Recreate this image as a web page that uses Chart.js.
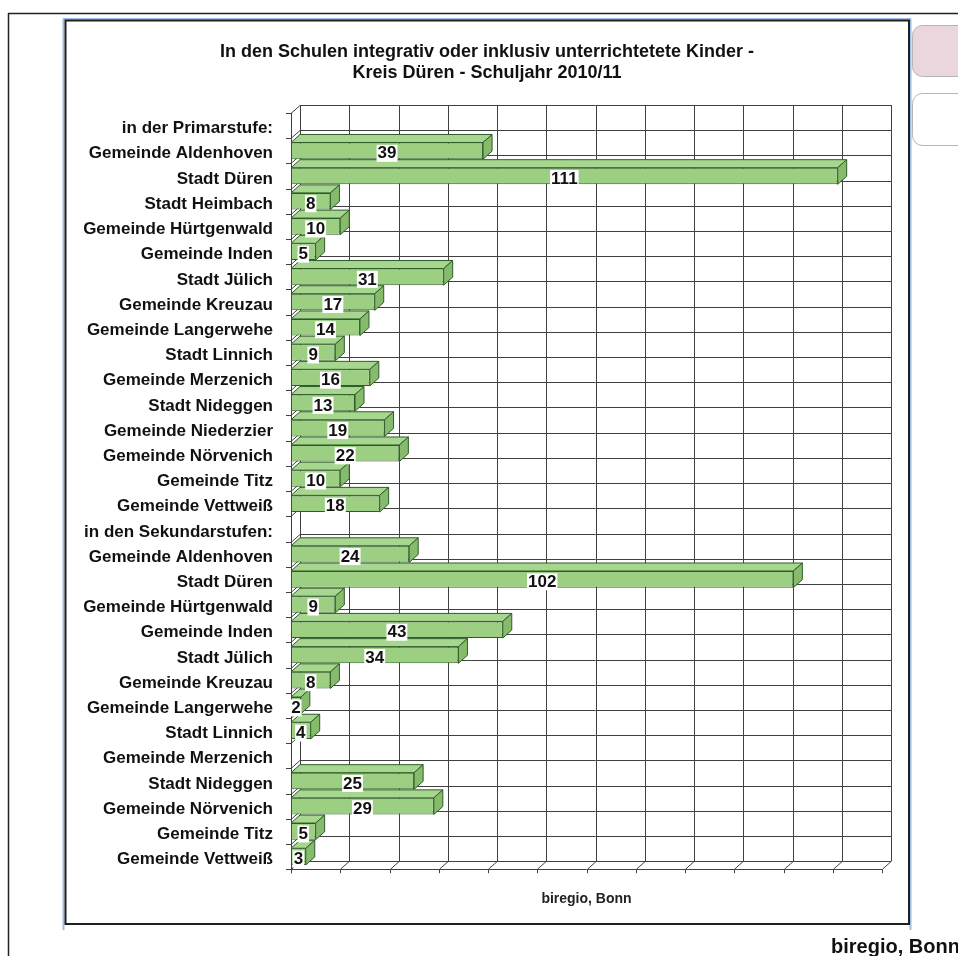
<!DOCTYPE html>
<html lang="de">
<head>
<meta charset="utf-8">
<title>Integrativ unterrichtete Kinder - Kreis Düren 2010/11</title>
<script src="https://cdn.jsdelivr.net/npm/chart.js@4.4.1/dist/chart.umd.min.js"></script>
<style>
    html, body { margin: 0; padding: 0; background: #fff; }
    canvas { display: block; }
</style>
</head>
<body>
<canvas id="schulChart" width="958" height="956"></canvas>
<script>
// Gemeinden und Werte je Schulstufe
const primarLabels = [
    'Gemeinde Aldenhoven', 'Stadt Düren', 'Stadt Heimbach', 'Gemeinde Hürtgenwald',
    'Gemeinde Inden', 'Stadt Jülich', 'Gemeinde Kreuzau', 'Gemeinde Langerwehe',
    'Stadt Linnich', 'Gemeinde Merzenich', 'Stadt Nideggen', 'Gemeinde Niederzier',
    'Gemeinde Nörvenich', 'Gemeinde Titz', 'Gemeinde Vettweiß'
];
const primarWerte = [39, 111, 8, 10, 5, 31, 17, 14, 9, 16, 13, 19, 22, 10, 18];

const sekundarLabels = [
    'Gemeinde Aldenhoven', 'Stadt Düren', 'Gemeinde Hürtgenwald', 'Gemeinde Inden',
    'Stadt Jülich', 'Gemeinde Kreuzau', 'Gemeinde Langerwehe', 'Stadt Linnich',
    'Gemeinde Merzenich', 'Stadt Nideggen', 'Gemeinde Nörvenich', 'Gemeinde Titz',
    'Gemeinde Vettweiß'
];
const sekundarWerte = [24, 102, 9, 43, 34, 8, 2, 4, null, 25, 29, 5, 3];

const titelZeilen = [
    'In den Schulen integrativ oder inklusiv unterrichtetete Kinder -',
    'Kreis Düren - Schuljahr 2010/11'
];
const quelle = 'biregio, Bonn';

const achseMax = 120;
const achseSchritt = 10;

// Zeilen zusammensetzen (Zwischenüberschriften ohne Balken)
const labels = ['in der Primarstufe:', ...primarLabels, 'in den Sekundarstufen:', ...sekundarLabels];
const werte = [null, ...primarWerte, null, ...sekundarWerte];

const SCHRIFT = "'Liberation Sans', Arial, sans-serif";
const TIEFE_X = 9;
const TIEFE_Y = -8;
const GITTER = '#404040';
const GRUEN = '#9dcf83';
const GRUEN_OBEN = '#a7d78e';
const GRUEN_SEITE = '#86bb6b';
const GRUEN_RAND = '#2f5b2a';

Chart.defaults.font.family = SCHRIFT;

function linie(ctx, x1, y1, x2, y2) {
    ctx.beginPath();
    ctx.moveTo(x1, y1);
    ctx.lineTo(x2, y2);
    ctx.stroke();
}

// Seitenrahmen, Überschrift und Quellenangabe unten rechts
const rahmenPlugin = {
    id: 'rahmen',
    beforeDraw(chart) {
        const ctx = chart.ctx;
        ctx.save();
        ctx.fillStyle = '#fff';
        ctx.fillRect(0, 0, chart.width, chart.height);

        ctx.strokeStyle = '#222';
        ctx.lineWidth = 1.5;
        linie(ctx, 8, 13.5, chart.width, 13.5);
        linie(ctx, 8.5, 13, 8.5, chart.height);

        ctx.strokeStyle = '#9dbde6';
        ctx.lineWidth = 2;
        linie(ctx, 63.5, 19, 63.5, 930);
        linie(ctx, 63, 19, 911, 19);
        linie(ctx, 910.5, 19, 910.5, 930);

        ctx.strokeStyle = '#1e1e1e';
        ctx.lineWidth = 2;
        ctx.strokeRect(65.5, 20.5, 843.5, 903.5);

        ctx.lineWidth = 1;
        ctx.strokeStyle = '#b5b5b5';
        ctx.fillStyle = '#ecd6de';
        ctx.beginPath();
        ctx.roundRect(912.5, 25.5, 70, 51, 10);
        ctx.fill();
        ctx.stroke();
        ctx.fillStyle = '#fff';
        ctx.beginPath();
        ctx.roundRect(912.5, 93.5, 70, 52, 10);
        ctx.fill();
        ctx.stroke();

        ctx.fillStyle = '#111';
        ctx.textBaseline = 'middle';
        ctx.textAlign = 'center';
        ctx.font = 'bold 18px ' + SCHRIFT;
        titelZeilen.forEach((zeile, i) => ctx.fillText(zeile, 487, 52 + i * 21.5));

        ctx.textAlign = 'left';
        ctx.font = 'bold 20px ' + SCHRIFT;
        ctx.fillText(quelle, 831, 947);
        ctx.restore();
    }
};

// Rückwand, Seitenwand und Boden des 3D-Diagramms
const gitterPlugin = {
    id: 'gitter3d',
    beforeDatasetsDraw(chart) {
        const { ctx, chartArea: a, scales: { x, y } } = chart;
        const n = chart.data.labels.length;
        const xl = x.getPixelForValue(0);
        const xr = x.getPixelForValue(achseMax);
        ctx.save();
        ctx.strokeStyle = GITTER;
        ctx.lineWidth = 1;

        // senkrechte Linien der Rückwand, Bodenlinien und Striche an der x-Achse
        for (let v = 0; v <= achseMax; v += achseSchritt) {
            const px = Math.round(x.getPixelForValue(v)) + 0.5;
            linie(ctx, px + TIEFE_X, a.top + TIEFE_Y, px + TIEFE_X, a.bottom + TIEFE_Y);
            linie(ctx, px, a.bottom, px + TIEFE_X, a.bottom + TIEFE_Y);
            linie(ctx, px, a.bottom, px, a.bottom + 4);
        }

        // waagerechte Linien der Rückwand und Seitenwand
        for (let i = 0; i <= n; i++) {
            const py = Math.round(y.getPixelForValue(i - 0.5)) + 0.5;
            linie(ctx, xl + TIEFE_X, py + TIEFE_Y, xr + TIEFE_X, py + TIEFE_Y);
            linie(ctx, xl, py, xl + TIEFE_X, py + TIEFE_Y);
            linie(ctx, xl - 5, py, xl, py);
        }

        // vordere Achsen
        const x0 = Math.round(xl) + 0.5;
        linie(ctx, x0, a.top, x0, a.bottom + 4);
        linie(ctx, xl, Math.round(a.bottom) + 0.5, xr, Math.round(a.bottom) + 0.5);
        ctx.restore();
    }
};

// Ober- und Seitenflächen der Balken sowie Wertbeschriftung
const balken3dPlugin = {
    id: 'balken3d',
    afterDatasetsDraw(chart) {
        const ctx = chart.ctx;
        const meta = chart.getDatasetMeta(0);
        ctx.save();
        ctx.lineWidth = 1;
        ctx.strokeStyle = GRUEN_RAND;
        ctx.lineJoin = 'round';

        meta.data.forEach((bar, i) => {
            if (werte[i] === null) return;
            const { x, y, base, height } = bar.getProps(['x', 'y', 'base', 'height'], true);
            const oben = y - height / 2;
            const unten = y + height / 2;

            ctx.fillStyle = GRUEN_OBEN;
            ctx.beginPath();
            ctx.moveTo(base, oben);
            ctx.lineTo(base + TIEFE_X, oben + TIEFE_Y);
            ctx.lineTo(x + TIEFE_X, oben + TIEFE_Y);
            ctx.lineTo(x, oben);
            ctx.closePath();
            ctx.fill();
            ctx.stroke();

            ctx.fillStyle = GRUEN_SEITE;
            ctx.beginPath();
            ctx.moveTo(x, oben);
            ctx.lineTo(x + TIEFE_X, oben + TIEFE_Y);
            ctx.lineTo(x + TIEFE_X, unten + TIEFE_Y);
            ctx.lineTo(x, unten);
            ctx.closePath();
            ctx.fill();
            ctx.stroke();
        });

        ctx.font = 'bold 17px ' + SCHRIFT;
        ctx.textAlign = 'center';
        ctx.textBaseline = 'middle';
        meta.data.forEach((bar, i) => {
            if (werte[i] === null) return;
            const { x, y, base } = bar.getProps(['x', 'y', 'base'], true);
            const text = String(werte[i]);
            const w = ctx.measureText(text).width;
            const cx = (x + base) / 2;
            const cy = y + 2;
            ctx.fillStyle = '#fff';
            ctx.fillRect(cx - w / 2 - 1, cy - 8, w + 2, 17);
            ctx.fillStyle = '#111';
            ctx.fillText(text, cx, cy + 1);
        });
        ctx.restore();
    }
};

const ctx = document.getElementById('schulChart').getContext('2d');
new Chart(ctx, {
    type: 'bar',
    data: {
        labels: labels,
        datasets: [{
            data: werte,
            backgroundColor: GRUEN,
            borderColor: GRUEN_RAND,
            borderWidth: 1,
            borderSkipped: false,
            categoryPercentage: 1,
            barPercentage: 0.66
        }]
    },
    options: {
        indexAxis: 'y',
        responsive: false,
        animation: false,
        devicePixelRatio: 1,
        layout: {
            padding: { left: 0, right: 76, top: 113, bottom: 48 }
        },
        plugins: {
            legend: { display: false },
            tooltip: { enabled: false },
            title: { display: false }
        },
        scales: {
            x: {
                min: 0,
                max: achseMax,
                ticks: { display: false, stepSize: achseSchritt },
                grid: { display: false, drawTicks: false },
                border: { display: false },
                title: {
                    display: true,
                    text: quelle,
                    color: '#222',
                    font: { size: 14, weight: 'bold' },
                    padding: { top: 22, bottom: 0 }
                }
            },
            y: {
                ticks: {
                    autoSkip: false,
                    padding: 18,
                    labelOffset: 3,
                    color: '#111',
                    font: { size: 17, weight: 'bold' }
                },
                grid: { display: false, drawTicks: false },
                border: { display: false },
                afterFit(scale) {
                    scale.width = 291;
                }
            }
        }
    },
    plugins: [rahmenPlugin, gitterPlugin, balken3dPlugin]
});
</script>
</body>
</html>
